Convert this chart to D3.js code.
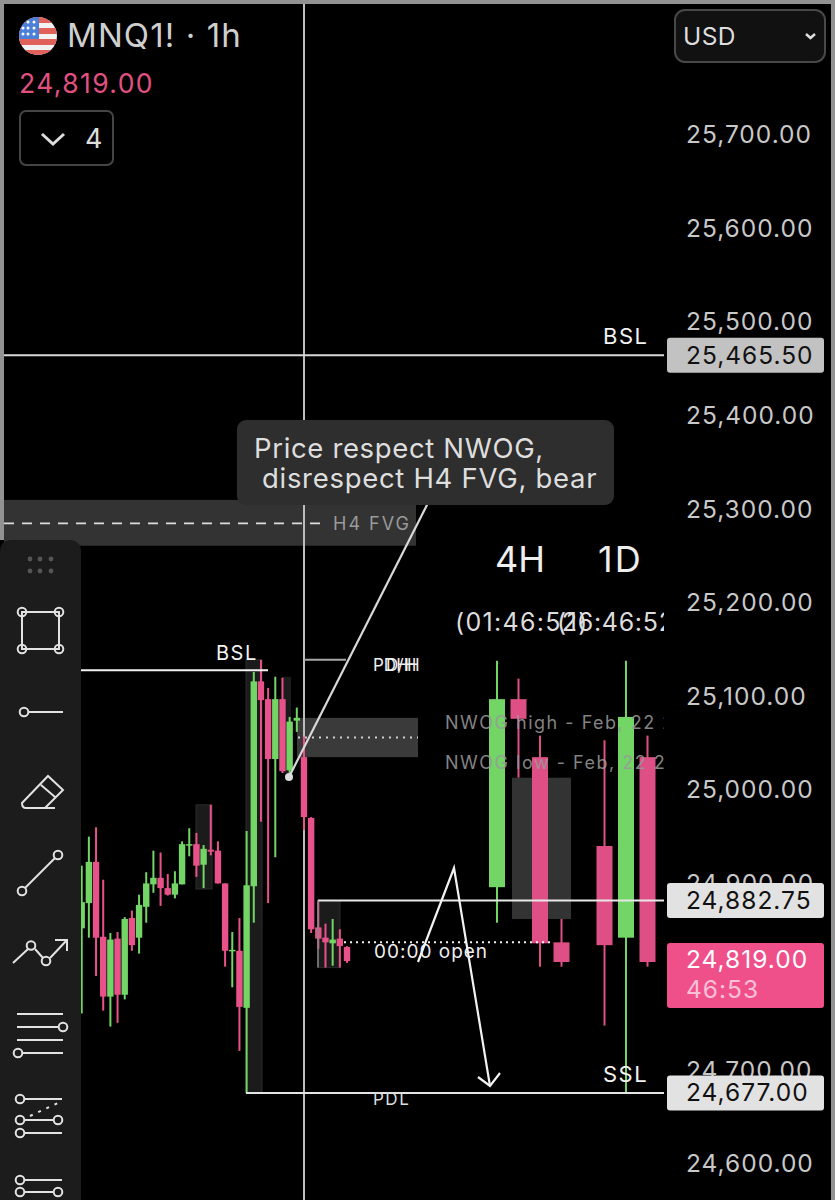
<!DOCTYPE html>
<html><head><meta charset="utf-8">
<style>html,body{margin:0;padding:0;background:#000}svg{display:block}text{font-family:Inter,"Noto Sans",sans-serif}</style>
<script src="https://cdn.jsdelivr.net/npm/d3@7/dist/d3.min.js"></script>
</head><body><svg id="c" width="835" height="1200"></svg>
<script>
// 1h candles: [high, low, bodyTop, bodyBottom]
const hourly = [
[24920,24762,24881,24853],[24951,24843,24924,24880],[24961,24802,24924,24843],[24905,24765,24844,24780],
[24848,24748,24841,24780],[24849,24752,24842,24782],[24865,24777,24863,24782],[24872,24829,24864,24835],
[24889,24826,24878,24843],[24913,24859,24901,24876],[24936,24891,24907,24900],[24934,24877,24907,24896],
[24911,24888,24896,24889],[24914,24885,24901,24889],[24946,24900,24943,24900],[24960,24930,24943,24942],
[24955,24908,24943,24920],[24942,24896,24938,24921],[24985,24931,24937,24935],[24946,24901,24936,24901],
[24901,24812,24901,24829],[24849,24790,24830,24829],[24864,24722,24829,24769],[24957,24677,24899,24768],
[25127,24859,25117,24898],[25140,24967,25117,25097],[25110,24880,25098,25034],[25122,24929,25098,25034],
[25121,25019,25098,25021],[25079,25019,25074,25022],[25089,25063,25078,25075],[25058,24958,25036,24972],
[24972,24848,24971,24852],[24883,24831,24854,24842],[24858,24811,24843,24838],[24863,24813,24841,24837],
[24852,24811,24842,24834],[24834,24816,24833,24818]];
const hourlyUp = [1,1,0,0,1,0,1,0,1,1,1,0,0,1,1,1,0,1,0,0,0,1,0,1,1,0,0,1,0,1,1,0,0,0,0,1,0,0];
// higher-timeframe candles
const htfSlots = [0,1,2,3,5,6,7];
const htf = [[25139,24859,25098,24897],[25120,25014,25098,25077],[25059,24812,25036,24837],[24863,24812,24838,24817],
[25054,24749,24941,24835],[25139,24677,25079,24843],[25059,24812,25036,24817]];
const htfUp = [1,0,0,0,0,1,0];
const priceTicks = [25700,25600,25500,25400,25300,25200,25100,25000,24900,24800,24700,24600];
const levelBSL = 25465.5, levelMid = 24882.75, levelLast = 24819, levelPDL = 24677, levelBSLLeft = 25129, levelPDH = 25140;
const levelNwogHi = 25078, levelNwogLo = 25036, levelNwogMid = 25057, levelOpen = 24838;
const levelFvgHi = 25311, levelFvgLo = 25262, levelFvgMid = 25286;

const GREEN="#72d566", RED="#e8528a", RED2="#de5085", W="#f2f2f2";
const svg=d3.select("#c");
svg.append("rect").attr("width",835).attr("height",1200).attr("fill","#000");
const y=d3.scaleLinear().domain([25700,24600]).range([136,1165]);
const xH=d3.scaleLinear().domain([0,37]).range([81.7,347]);
const xD=d3.scaleLinear().domain([0,7]).range([497,647.5]);
const defs=svg.append("defs");
defs.append("clipPath").attr("id","pane").append("rect").attr("x",0).attr("y",0).attr("width",664).attr("height",1200);
const pane=svg.append("g").attr("clip-path","url(#pane)");

function box(g,x0,x1,p0,p1,fill,stroke){return g.append("rect").attr("x",x0).attr("width",x1-x0).attr("y",y(p0)).attr("height",y(p1)-y(p0)).attr("fill",fill).attr("stroke",stroke||"none");}
// zones
box(pane,4,416,levelFvgHi,levelFvgLo,"#333");
box(pane,297,418,levelNwogHi,levelNwogLo,"#3a3a3a");
box(pane,196,212,24985,24895,"#1b1b1b","#2c2c2c");
box(pane,246,262,25140,24677,"#1b1b1b","#2c2c2c");
box(pane,283,291,25122,25019,"#1b1b1b");
box(pane,318,340,levelMid,24811,"#1b1b1b","#2c2c2c");
box(pane,512,571,25014,24863,"#333");

function ln(g,x0,y0,x1,y1,c,w,d){return g.append("line").attr("x1",x0).attr("y1",y0).attr("x2",x1).attr("y2",y1).attr("stroke",c).attr("stroke-width",w||2).attr("stroke-dasharray",d||null);}
// crosshair
ln(pane,304,0,304,1200,"#bdbdbd",2);
// candles
function candles(g,data,ups,xf,bw,ww,red){
 const s=g.selectAll(null).data(data).join("g").attr("fill",(d,i)=>ups[i]?GREEN:red);
 s.append("rect").attr("x",(d,i)=>xf(i)-ww/2).attr("width",ww).attr("y",d=>y(d[0])).attr("height",d=>y(d[1])-y(d[0]));
 s.append("rect").attr("x",(d,i)=>xf(i)-bw/2).attr("width",bw).attr("y",d=>y(d[2])).attr("height",d=>Math.max(1.5,y(d[3])-y(d[2])));
}
candles(pane,hourly,hourlyUp,xH,6.4,2,RED);
candles(pane,htf,htfUp,i=>xD(htfSlots[i]),16,2,RED2);

// levels
ln(pane,4,y(levelBSL),665,y(levelBSL),"#d8d8d8",2);
ln(pane,81,y(levelBSLLeft),268,y(levelBSLLeft),W,2);
ln(pane,304,y(levelPDH),346,y(levelPDH),"#a8a8a8",2);
ln(pane,318,y(levelMid),665,y(levelMid),"#e8e8e8",2);
ln(pane,318,y(levelMid),318,y(24811),"#888",1.5);
ln(pane,246,y(levelPDL),665,y(levelPDL),"#e4e4e4",2);
ln(pane,4,y(levelFvgMid),325,y(levelFvgMid),"#ddd",1.8,"10 8");
ln(pane,298,y(levelNwogMid),418,y(levelNwogMid),"#cfcfcf",2,"2 5");
ln(pane,344,y(levelOpen),552,y(levelOpen),"#f0f0f0",2,"2 4");

function tx(g,s,x,yy,size,fill,ls){return g.append("text").text(s).attr("x",x).attr("y",yy).attr("font-size",size).attr("fill",fill).attr("letter-spacing",ls||0);}
tx(pane,"H4 FVG",333,530,18,"#9a9a9a",2);
tx(pane,"NWOG high - Feb, 22 2025",445,729,18,"#9a9a9a",1.5).attr("opacity",.85);
tx(pane,"NWOG low - Feb, 22 2025",445,769,18,"#9a9a9a",1.5).attr("opacity",.85);
tx(pane,"BSL",216,660,20,W,1.5);
tx(pane,"PDH",373,671,17,"#eee");
tx(pane,"D/H",386,671,17,"#eee");
tx(pane,"H",407,671,17,"#eee");
tx(pane,"PDL",373,1105,17,"#ddd",1.5);
tx(pane,"00:00 open",374,958,19,"#eee",1);
tx(pane,"BSL",603,344,22,W,1.5);
tx(pane,"SSL",603,1082,22,W,1.5);
tx(pane,"4H",495,572,36,"#eee");
tx(pane,"1D",598,572,36,"#eee",2);
tx(pane,"(01:46:52)",455,631,25,"#ddd",1.3);
tx(pane,"(16:46:52)",557,631,25,"#ddd",.7);

// trend line + callout
ln(svg,289,777,428,503,"#d8d8d8",2.2);
svg.append("circle").attr("cx",289).attr("cy",777).attr("r",4).attr("fill","#ddd");
svg.append("rect").attr("x",237).attr("y",420).attr("width",377).attr("height",85).attr("rx",9).attr("fill","#2e2e2e");
tx(svg,"Price respect NWOG,",254,458,27.5,"#dedede",.65);
tx(svg," disrespect H4 FVG, bear",262,488,27.5,"#dedede",.7);

// arrow
const arrow=[[418,962],[454,868],[490,1086]];
svg.append("path").attr("d",d3.line()(arrow)).attr("fill","none").attr("stroke",W).attr("stroke-width",2.2);
svg.append("path").attr("d",d3.line()([[478,1077],[490,1086],[500,1073]])).attr("fill","none").attr("stroke",W).attr("stroke-width",2.2);

// price axis
const axis=d3.axisRight(y).tickValues(priceTicks).tickSize(0).tickPadding(0).tickFormat(d=>d3.format(",.2f")(d));
const ag=svg.append("g").attr("transform","translate(686,-1)").call(axis);
ag.select(".domain").remove();
ag.selectAll("text").attr("font-size",24.5).attr("fill","#c8c8c8").attr("font-family","Inter").attr("letter-spacing",1);

function tag(p,h,fill,c,txt){const yy=y(p);
 svg.append("rect").attr("x",667).attr("y",yy-h/2).attr("width",157).attr("height",h).attr("rx",3).attr("fill",fill);
 tx(svg,txt,686,yy+8.5,24.5,c,1);}
tag(levelBSL,35,"#c2c2c2","#111",d3.format(",.2f")(levelBSL));
tag(levelMid,35,"#e2e2e2","#111",d3.format(",.2f")(levelMid));
tag(levelPDL,35,"#e2e2e2","#111",d3.format(",.2f")(levelPDL));
svg.append("rect").attr("x",667).attr("y",943).attr("width",157).attr("height",65).attr("rx",3).attr("fill","#f0508a");
tx(svg,d3.format(",.2f")(levelLast),686,968,24.5,"#fff",1);
tx(svg,"46:53",686,998,24.5,"#fbc0d6",1);

// header
defs.append("clipPath").attr("id","fl").append("circle").attr("cx",38).attr("cy",36).attr("r",19);
const fg=svg.append("g").attr("clip-path","url(#fl)");
fg.append("rect").attr("x",19).attr("y",17).attr("width",38).attr("height",38).attr("fill","#f2f2f2");
[[17,6],[28,6],[39,6],[50,5]].forEach(([a,h])=>fg.append("rect").attr("x",19).attr("y",a).attr("width",38).attr("height",h).attr("fill","#e0605a"));
fg.append("rect").attr("x",19).attr("y",17).attr("width",20).attr("height",22).attr("fill","#4a80d8");
[[28,22],[34,22],[23,28],[28,28],[34,28],[23,34],[28,34],[34,34]].forEach(([a,b])=>fg.append("circle").attr("cx",a).attr("cy",b).attr("r",1.5).attr("fill","#fff"));
tx(svg,"MNQ1! · 1h",67,47,33,"#cfcfcf",1.1);
tx(svg,"24,819.00",19,93,26.5,"#e0517f",1.4);
svg.append("rect").attr("x",20).attr("y",111).attr("width",93).attr("height",54).attr("rx",6).attr("fill","none").attr("stroke","#454545").attr("stroke-width",2);
svg.append("path").attr("d","M42 134L53 144L64 134").attr("fill","none").attr("stroke","#ddd").attr("stroke-width",3);
tx(svg,"4",85,148,27,"#ddd");
svg.append("rect").attr("x",675).attr("y",10).attr("width",150).attr("height",52).attr("rx",10).attr("fill","#111").attr("stroke","#484848").attr("stroke-width",2);
tx(svg,"USD",683,45,24.5,"#ddd",.4);
svg.append("path").attr("d","M806 34L810.5 38L815 34").attr("fill","none").attr("stroke","#ddd").attr("stroke-width",2.5);

// toolbar
const tb=svg.append("g");
tb.append("path").attr("d","M0 552Q0 540 12 540H69Q81 540 81 552V1200H0Z").attr("fill","#1c1c1c");
[[30,559],[40,559],[51,559],[30,571],[40,571],[51,571]].forEach(([a,b])=>tb.append("circle").attr("cx",a).attr("cy",b).attr("r",2.4).attr("fill","#555"));
const ic=tb.append("g").attr("fill","none").attr("stroke","#e2e2e2").attr("stroke-width",2);
const c=(a,b,r)=>ic.append("circle").attr("cx",a).attr("cy",b).attr("r",r||4.3);
const p=(d,op)=>ic.append("path").attr("d",d).attr("stroke-dasharray",op||null);
p("M22 612H59V649H22Z");[[22,612],[59,612],[22,649],[59,649]].forEach(([a,b])=>c(a,b));
p("M28 712H63");c(24,712);
p("M22 803L48 776L63 790L45 808H26Q22 808 22 803ZM41 785L55 797M45 808H55");
p("M25 888L55 858");c(22,891);c(58,855);
p("M13 963L28 949M35 949L43 958M50 958L67 940M55 940H67V951");c(31,945.5);c(46,961);
p("M17 1014H63M17 1027H59M17 1040H63M23 1053H63");c(63,1027);c(18,1053);
p("M25 1099H62M25 1120H54M25 1133H62");c(20,1099);c(20,1120);c(58,1120);c(20,1133);
p("M30 1116L58 1103","3 6");
p("M25 1180H62M25 1192H54");c(20,1180);c(20,1192);c(58,1192);

// frame
svg.append("rect").attr("width",835).attr("height",4).attr("fill","#929292");
svg.append("rect").attr("y",0).attr("width",4).attr("height",540).attr("fill","#929292");
svg.append("rect").attr("x",831).attr("width",4).attr("height",1200).attr("fill","#929292");
</script></body></html>
